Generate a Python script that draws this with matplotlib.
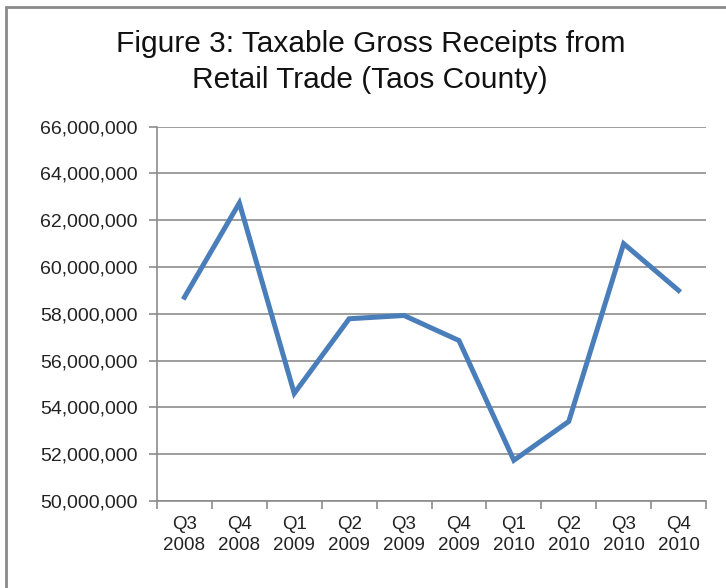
import numpy as np
import matplotlib.pyplot as plt
from matplotlib.patches import Rectangle
from matplotlib.ticker import FuncFormatter, FixedLocator

plt.rcParams['font.family'] = ['Liberation Sans', 'DejaVu Sans']

# data
quarters = ["Q3\n2008", "Q4\n2008", "Q1\n2009", "Q2\n2009", "Q3\n2009",
            "Q4\n2009", "Q1\n2010", "Q2\n2010", "Q3\n2010", "Q4\n2010"]
receipts = [58710000, 62740000, 54600000, 57790000, 57930000,
            56860000, 51740000, 53400000, 61000000, 59000000]
y_ticks = [50000000, 52000000, 54000000, 56000000, 58000000,
           60000000, 62000000, 64000000, 66000000]

fig = plt.figure(figsize=(7.26, 5.88), dpi=100)
ax = fig.add_axes([157/726, 1 - 501/588, (706 - 157)/726, (501 - 126.7)/588])

x = np.arange(len(quarters))
ax.plot(x, receipts, color='#4a7ebb', lw=3.6, solid_joinstyle='miter', zorder=3)

ax.set_ylim(y_ticks[0], y_ticks[-1])
ax.set_yticks(y_ticks)
ax.yaxis.set_major_formatter(FuncFormatter(lambda v, p: "{:,.0f}".format(v)))
ax.grid(axis='y', color='#8c8c8c', lw=1.2)
ax.set_axisbelow(True)

# category ticks at the boundaries, labels at the centres
ax.set_xlim(-0.5, len(quarters) - 0.5)
ax.xaxis.set_major_locator(FixedLocator(np.arange(-0.5, len(quarters), 1.0)))
ax.xaxis.set_minor_locator(FixedLocator(x))
ax.set_xticklabels([], minor=False)
ax.set_xticklabels(quarters, minor=True)
ax.tick_params(axis='x', which='major', length=6, color='#8c8c8c', width=1.2)
ax.tick_params(axis='x', which='minor', length=0, pad=11, labelsize=13.5, colors='#222222')
for t in ax.xaxis.get_minorticklabels():
    t.set_linespacing(1.3)
ax.tick_params(axis='y', length=6, color='#8c8c8c', width=1.2, pad=8, labelsize=14, labelcolor='#222222')

for s in ['top', 'right']:
    ax.spines[s].set_visible(False)
for s in ['left', 'bottom']:
    ax.spines[s].set_color('#8c8c8c')
    ax.spines[s].set_linewidth(1.2)

fig.text(0.51, 1 - 62/588, "Figure 3: Taxable Gross Receipts from\nRetail Trade (Taos County)",
         ha='center', va='center', fontsize=21.5, linespacing=1.35, color='#111111')

# chart border (cut off at right and bottom)
fig.patches.append(Rectangle((6/726, -0.1), 1.2, 1.1 - 7/588, transform=fig.transFigure,
                             fill=False, edgecolor='#8a8a8a', lw=2))

fig.savefig('out.png', dpi=100)
